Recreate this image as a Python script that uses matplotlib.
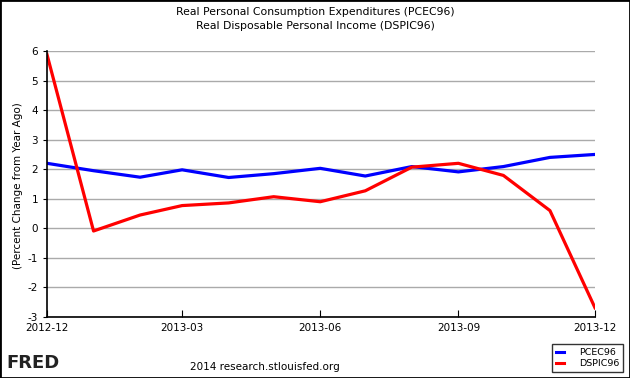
import matplotlib
matplotlib.use("Agg")
import matplotlib.pyplot as plt
from matplotlib.patches import Rectangle
import pandas as pd

dates = pd.date_range("2012-12-01", "2013-12-01", freq="MS")
pcec96 = [2.20, 1.95, 1.73, 1.98, 1.72, 1.85, 2.03, 1.77, 2.09, 1.91, 2.09, 2.40, 2.50]
dspic96 = [5.88, -0.09, 0.45, 0.77, 0.86, 1.07, 0.90, 1.27, 2.07, 2.20, 1.79, 0.60, -2.69]
title_lines = ["Real Personal Consumption Expenditures (PCEC96)",
               "Real Disposable Personal Income (DSPIC96)"]
ylabel = "(Percent Change from Year Ago)"
xtick_dates = ["2012-12-01", "2013-03-01", "2013-06-01", "2013-09-01", "2013-12-01"]

plt.rcParams['font.family'] = ['DejaVu Sans']
plt.rcParams['axes.unicode_minus'] = False
fig = plt.figure(figsize=(6.3, 3.78), dpi=100)
ax = fig.add_axes([47/630, 1-317/378, (595-47)/630, (317-51)/378])

l1, = ax.plot(dates, pcec96, color="#0000ff", lw=2.3, label="PCEC96")
l2, = ax.plot(dates, dspic96, color="#ff0000", lw=2.3, label="DSPIC96")

ax.set_xlim(dates[0], dates[-1])
ax.set_ylim(-3, 6)
ax.set_yticks(range(-3, 7))
ax.yaxis.grid(True, color="#aaaaaa", lw=1)
ax.set_axisbelow(True)
xt = pd.to_datetime(xtick_dates)
ax.set_xticks(xt)
ax.set_xticklabels([d.strftime("%Y-%m") for d in xt])
for s in ["top", "right"]:
    ax.spines[s].set_visible(False)
ax.spines["left"].set_linewidth(1.2)
ax.spines["bottom"].set_linewidth(1.2)
ax.tick_params(axis="x", direction="in", length=5, labelsize=7.5, pad=4)
ax.tick_params(axis="y", direction="out", length=3, labelsize=7.5)

fig.text(18/630, 0.5 + 0.01, ylabel, rotation=90, ha="center", va="center", fontsize=7.5)
fig.text(0.5, 1-12/378, title_lines[0], ha="center", va="center", fontsize=7.8)
fig.text(0.5, 1-26/378, title_lines[1], ha="center", va="center", fontsize=7.8)
fig.text(265/630, 1-367/378, "2014 research.stlouisfed.org", ha="center", va="center", fontsize=7.5)
fig.text(6/630, 1-363/378, "FRED", ha="left", va="center", fontsize=13, fontweight="bold", color="#222222")

leg = fig.legend(handles=[l1, l2], loc="lower right", bbox_to_anchor=(623/630, 1-372/378),
                 fontsize=6.8, frameon=True, fancybox=False, handlelength=0.8,
                 borderpad=0.4, labelspacing=0.25, handletextpad=1.6, borderaxespad=0)
leg.get_frame().set_edgecolor("black")
leg.get_frame().set_linewidth(1.0)
for h in leg.get_lines():
    h.set_linewidth(2.2)

fig.patches.append(Rectangle((0, 0), 1, 1, transform=fig.transFigure, fill=False,
                             edgecolor="black", lw=2))
fig.savefig("out.png", dpi=100)
